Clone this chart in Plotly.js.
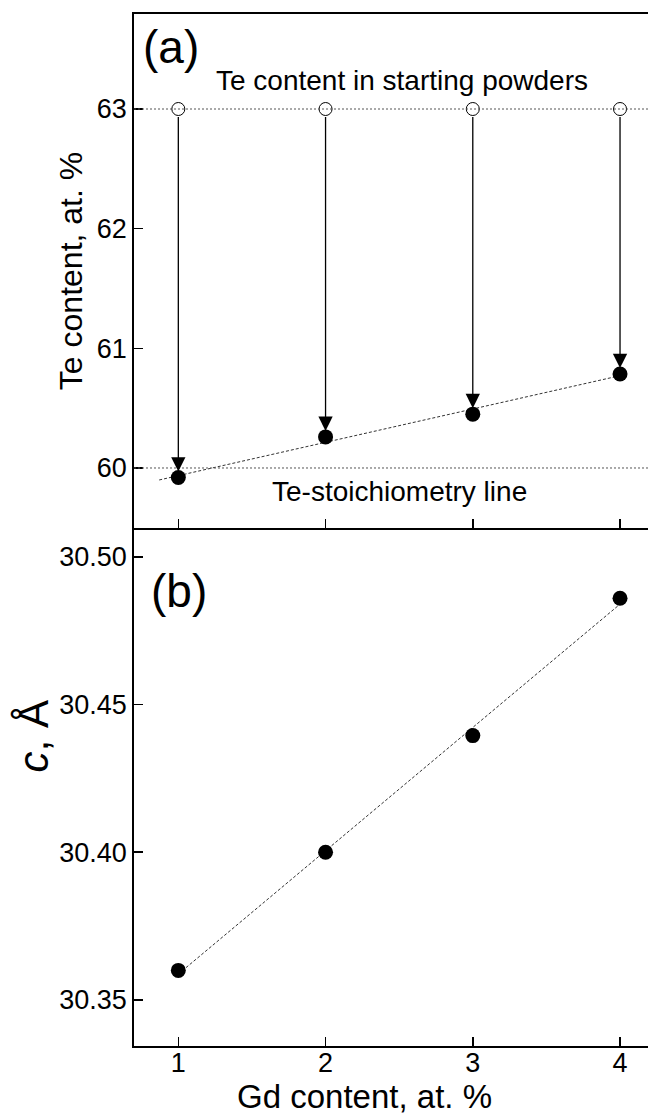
<!DOCTYPE html>
<html>
<head>
<meta charset="utf-8">
<script src="https://cdn.plot.ly/plotly-3.0.1.min.js"></script>
<style>html,body{margin:0;padding:0;background:#fff;overflow:hidden}</style>
</head>
<body>
<div id="chart" style="width:648px;height:1115px"></div>
<script>
// ---- data ----
const gdContent = [1, 2, 3, 4];
const teStarting = [63, 63, 63, 63];
const teMeasured = [59.92, 60.26, 60.45, 60.785];
const cParam = [30.360, 30.400, 30.4395, 30.486];
const teStoichiometry = 60;
const fitRangeA = [0.87, 4];
const fitRangeB = [1, 4];
const xTicks = [1, 2, 3, 4];
const yTicksA = [60, 61, 62, 63];
const yTicksB = [30.35, 30.40, 30.45, 30.50];

function linfit(xs, ys) {
  const n = xs.length;
  const mx = xs.reduce((a, b) => a + b, 0) / n;
  const my = ys.reduce((a, b) => a + b, 0) / n;
  let sxy = 0, sxx = 0;
  for (let i = 0; i < n; i++) { sxy += (xs[i] - mx) * (ys[i] - my); sxx += (xs[i] - mx) ** 2; }
  const k = sxy / sxx;
  return x => my + k * (x - mx);
}
const fA = linfit(gdContent, teMeasured);
const fB = linfit(gdContent, cParam);

const FONT = 'Liberation Sans, Arial, sans-serif';

const traces = [
  { x: fitRangeA, y: fitRangeA.map(fA), xaxis: 'x2', yaxis: 'y2', mode: 'lines',
    line: { color: '#333', width: 1, dash: '3px,2px' }, hoverinfo: 'skip' },
  { x: gdContent, y: teStarting, xaxis: 'x2', yaxis: 'y2', mode: 'markers',
    marker: { symbol: 'circle-open', size: 13, color: '#000', line: { width: 1, color: '#000' } } },
  { x: gdContent, y: teMeasured, xaxis: 'x2', yaxis: 'y2', mode: 'markers',
    marker: { symbol: 'circle', size: 15, color: '#000' } },
  { x: fitRangeB, y: fitRangeB.map(fB), xaxis: 'x', yaxis: 'y', mode: 'lines',
    line: { color: '#333', width: 1, dash: '3px,2px' }, hoverinfo: 'skip' },
  { x: gdContent, y: cParam, xaxis: 'x', yaxis: 'y', mode: 'markers',
    marker: { symbol: 'circle', size: 15, color: '#000' } }
];

const annotations = gdContent.map((g, i) => ({
  x: g, y: teMeasured[i], ax: g, ay: teStarting[i], xref: 'x2', yref: 'y2', axref: 'x2', ayref: 'y2',
  text: '', showarrow: true, arrowhead: 2, arrowsize: 2.2, arrowwidth: 1.3, arrowcolor: '#000',
  standoff: 6, startstandoff: 6.5
}));
annotations.push(
  { xref: 'paper', yref: 'paper', x: 0.013, y: 0.995, xanchor: 'left', yanchor: 'top',
    text: '(a)', showarrow: false, font: { family: FONT, size: 46, color: '#000' } },
  { xref: 'x2', yref: 'y2', x: 2.52, y: 63.24, xanchor: 'center', yanchor: 'middle',
    text: 'Te content in starting powders', showarrow: false, font: { family: FONT, size: 28, color: '#000' } },
  { xref: 'x2', yref: 'y2', x: 2.50, y: 59.80, xanchor: 'center', yanchor: 'middle',
    text: 'Te-stoichiometry line', showarrow: false, font: { family: FONT, size: 28, color: '#000' } },
  { xref: 'paper', yref: 'paper', x: 0.03, y: 0.468, xanchor: 'left', yanchor: 'top',
    text: '(b)', showarrow: false, font: { family: FONT, size: 46, color: '#000' } },
  { xref: 'paper', yref: 'paper', x: -0.1965, y: 0.30, xanchor: 'center', yanchor: 'middle',
    text: '<i>c</i>, Å', textangle: -90, showarrow: false, font: { family: FONT, size: 42, color: '#000' } },
  { xref: 'paper', yref: 'paper', x: 0.449, y: -0.0494, xanchor: 'center', yanchor: 'middle',
    text: 'Gd content, at. %', showarrow: false, font: { family: FONT, size: 33, color: '#000' } }
);

const shapes = [teStarting[0], teStoichiometry].map(v => ({
  type: 'line', xref: 'x2 domain', yref: 'y2', x0: 0, x1: 1, y0: v, y1: v,
  line: { color: '#555', width: 1, dash: '2px,2px' }
}));

const axisCommon = {
  showline: true, linecolor: '#000', linewidth: 1.8, ticks: 'inside', ticklen: 9, tickwidth: 1.5,
  tickcolor: '#000', showgrid: false, zeroline: false, tickfont: { family: FONT, size: 27, color: '#000' }
};

const layout = {
  width: 648, height: 1115,
  margin: { l: 134, r: 0, t: 14, b: 69 },
  paper_bgcolor: '#fff', plot_bgcolor: '#fff',
  showlegend: false,
  font: { family: FONT, color: '#000' },
  xaxis: Object.assign({}, axisCommon, {
    domain: [0, 1], anchor: 'y', range: [0.699, 4.19], tickvals: xTicks, ticktext: xTicks.map(String),
    ticklabelstandoff: -8
  }),
  xaxis2: Object.assign({}, axisCommon, {
    domain: [0, 1], anchor: 'x2' === 'x2' ? 'y2' : 'y2', range: [0.699, 4.19], tickvals: xTicks, showticklabels: false, mirror: true
  }),
  yaxis: Object.assign({}, axisCommon, {
    domain: [0, 0.502], anchor: 'x', range: [30.3344, 30.5098], tickvals: yTicksB,
    ticktext: yTicksB.map(v => v.toFixed(2))
  }),
  yaxis2: Object.assign({}, axisCommon, {
    domain: [0.502, 1], anchor: 'x2', range: [59.499, 63.794], tickvals: yTicksA,
    ticktext: yTicksA.map(String),
    title: { text: 'Te content, at. %', font: { family: FONT, size: 32 }, standoff: 4 }
  }),
  shapes: shapes,
  annotations: annotations
};

Plotly.newPlot('chart', traces, layout, { displayModeBar: false, staticPlot: true });
</script>
</body>
</html>
